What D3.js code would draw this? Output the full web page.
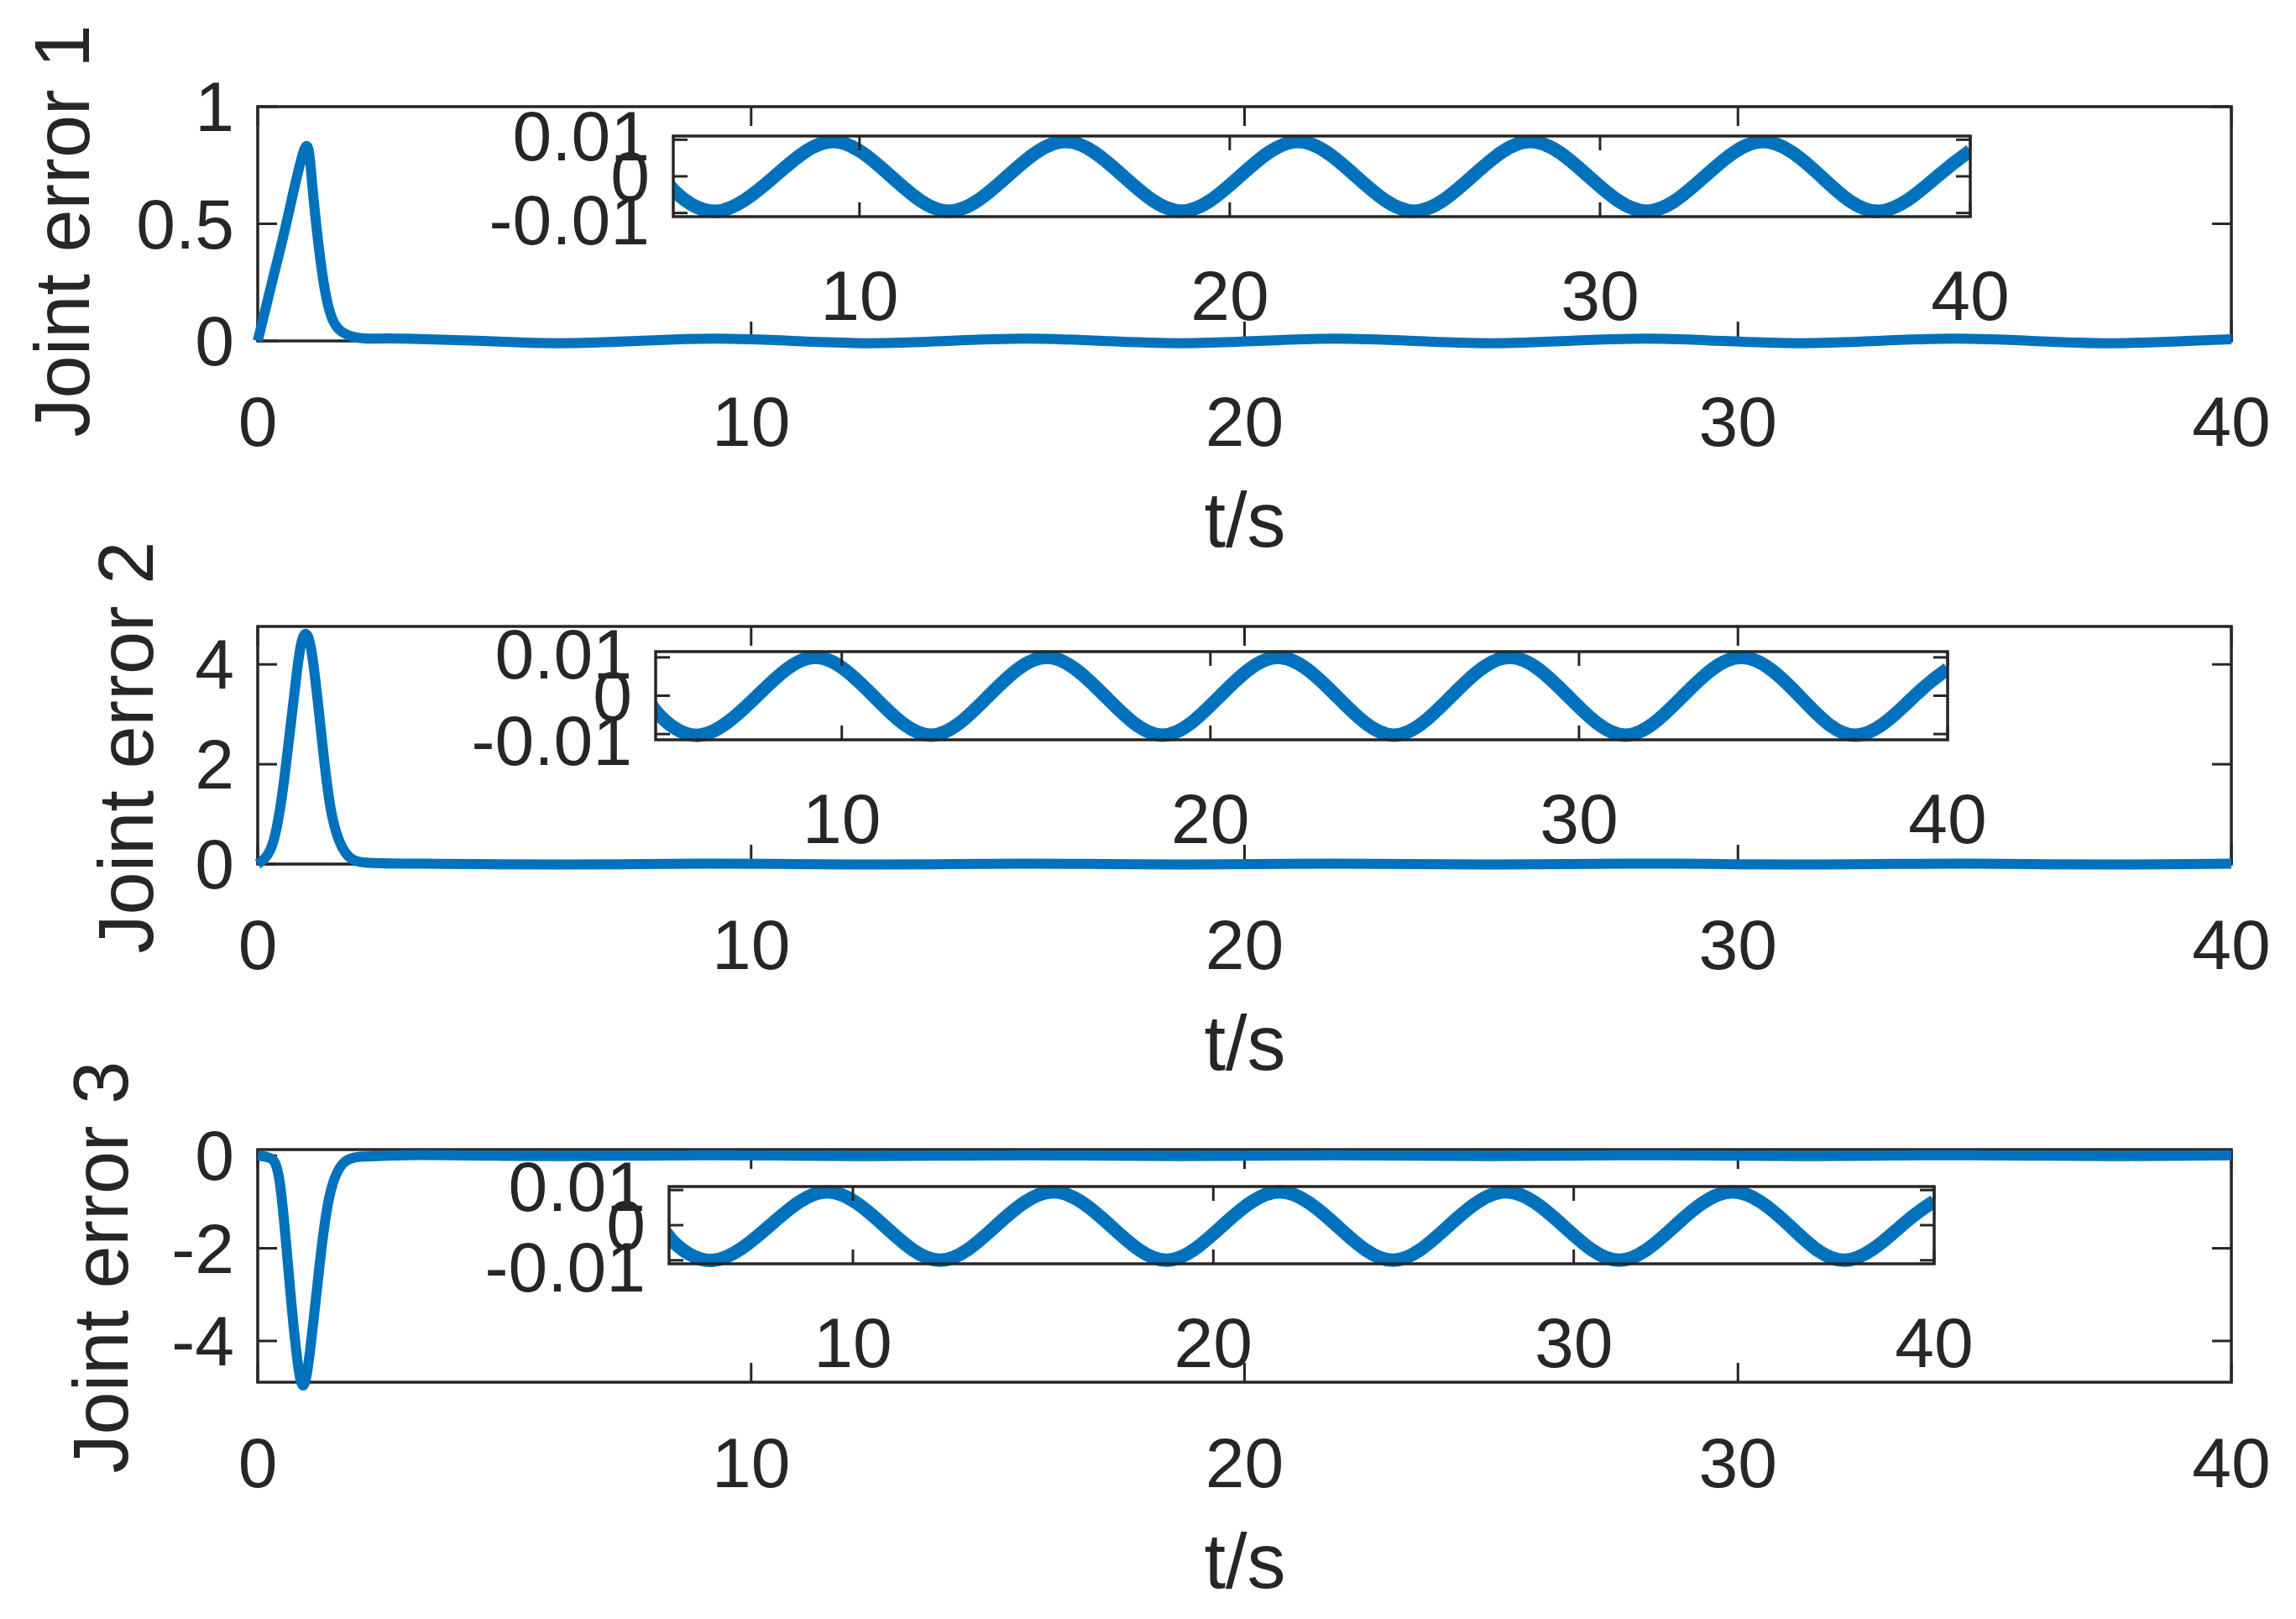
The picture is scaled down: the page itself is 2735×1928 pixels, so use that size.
<!DOCTYPE html>
<html><head><meta charset="utf-8">
<script src="https://cdn.jsdelivr.net/npm/d3@7"></script>
<style>body{margin:0;background:#fff}</style></head>
<body><svg id="c" width="2735" height="1928"></svg>
<script>
// ---- data ----
const xTicks = [0, 10, 20, 30, 40];
const insetXTicks = [10, 20, 30, 40];
const insetYTicks = [-0.01, 0, 0.01];
const insetYLabels = ["-0.01", "0", "0.01"];

const transientT1 = [0, 0.3, 0.6, 0.95, 1.1, 1.3, 1.5, 1.7, 2.0, 2.4];
const transientV1 = [0, 0.26, 0.52, 0.82, 0.68, 0.3, 0.1, 0.04, 0.015, 0.01];
const transientT2 = [0, 0.3, 0.55, 0.8, 0.95, 1.1, 1.3, 1.5, 1.8, 2.2];
const transientV2 = [0, 0.4, 1.8, 3.9, 4.6, 4.2, 2.5, 1.0, 0.2, 0.03];
const transientT3 = [0, 0.25, 0.45, 0.65, 0.87, 1.05, 1.25, 1.45, 1.75, 2.2];
const transientV3 = [0, -0.05, -0.6, -2.8, -4.85, -4.3, -2.4, -0.9, -0.15, -0.02];

const steadyT = [3.0, 4.57, 5.0, 6.14, 7.71, 9.28, 10.85, 12.42, 13.99, 15.56, 17.13, 18.70, 20.27, 21.84, 23.41, 24.98, 26.55, 28.12, 29.69, 31.26, 32.83, 34.40, 35.97, 37.54, 39.11, 40.0];
const steadyV1 = [0.0095, 0, -0.004, -0.0095, 0, 0.0095, 0, -0.0095, 0, 0.0095, 0, -0.0095, 0, 0.0095, 0, -0.0095, 0, 0.0095, 0, -0.0095, 0, 0.0095, 0, -0.0095, 0, 0.0070];
const steadyV2 = [0.0100, 0, -0.0045, -0.0103, 0, 0.0100, 0, -0.0103, 0, 0.0100, 0, -0.0103, 0, 0.0100, 0, -0.0103, 0, 0.0100, 0, -0.0103, 0, 0.0100, 0, -0.0103, 0, 0.0070];
const steadyV3 = [0.0095, 0, -0.0045, -0.0100, 0, 0.0095, 0, -0.0100, 0, 0.0095, 0, -0.0100, 0, 0.0095, 0, -0.0100, 0, 0.0095, 0, -0.0100, 0, 0.0095, 0, -0.0100, 0, 0.0068];

const yTicks1 = [0, 0.5, 1], yLabels1 = ["0", "0.5", "1"];
const yTicks2 = [0, 2, 4], yLabels2 = ["0", "2", "4"];
const yTicks3 = [-4, -2, 0], yLabels3 = ["-4", "-2", "0"];
const yLabelNames = ["Joint error 1", "Joint error 2", "Joint error 3"];

// ---- layout ----
const panels = [
  {top:127, bot:406, yd:[0,1], yt:yTicks1, yl:yLabels1, tt:transientT1, tv:transientV1, sv:steadyV1, lab:{x:74,y:275},
   inset:{l:802,r:2347,t:162,b:258,yd:[-0.011,0.011],xd:[4.97,40]}},
  {top:746, bot:1029, yd:[0,4.76], yt:yTicks2, yl:yLabels2, tt:transientT2, tv:transientV2, sv:steadyV2, lab:{x:150,y:890},
   inset:{l:781,r:2320,t:776,b:881,yd:[-0.0115,0.0115],xd:[4.95,40]}},
  {top:1369, bot:1646, yd:[-4.89,0.13], yt:yTicks3, yl:yLabels3, tt:transientT3, tv:transientV3, sv:steadyV3, lab:{x:120,y:1509},
   inset:{l:797,r:2304,t:1413,b:1505,yd:[-0.011,0.011],xd:[4.9,40]}}
];
const L = 307, R = 2658, blue = "#0072BD", font = "Liberation Sans, Arial, sans-serif";
const TF = 84, LF = 92;
const svg = d3.select("#c");

function box(g, x, y, tl, xt, ytk) {
  const [x0,x1] = x.range(), [y0,y1] = y.range();
  g.append("rect").attr("x",x0).attr("y",y1).attr("width",x1-x0).attr("height",y0-y1)
    .attr("fill","none").attr("stroke","#262626").attr("stroke-width",3.5);
  xt.forEach(t=>{const px=x(t);
    g.append("line").attr("x1",px).attr("x2",px).attr("y1",y0).attr("y2",y0-tl).attr("stroke","#262626").attr("stroke-width",3);
    g.append("line").attr("x1",px).attr("x2",px).attr("y1",y1).attr("y2",y1+tl).attr("stroke","#262626").attr("stroke-width",3);});
  ytk.forEach(t=>{const py=y(t);
    g.append("line").attr("x1",x0).attr("x2",x0+tl).attr("y1",py).attr("y2",py).attr("stroke","#262626").attr("stroke-width",3);
    g.append("line").attr("x1",x1).attr("x2",x1-tl).attr("y1",py).attr("y2",py).attr("stroke","#262626").attr("stroke-width",3);});
}
const line = (x,y)=>d3.line().x(d=>x(d[0])).y(d=>y(d[1])).curve(d3.curveNatural);

panels.forEach((p,i)=>{
  const g = svg.append("g");
  const x = d3.scaleLinear().domain([0,40]).range([L,R]);
  const y = d3.scaleLinear().domain(p.yd).range([p.bot,p.top]);
  const main = p.tt.map((t,k)=>[t,p.tv[k]]).concat(steadyT.map((t,k)=>[t,p.sv[k]]));
  box(g,x,y,23,xTicks,p.yt);
  g.append("path").datum(main).attr("d",line(x,y)).attr("fill","none").attr("stroke",blue).attr("stroke-width",12).attr("stroke-linejoin","round");
  xTicks.forEach(t=>g.append("text").attr("x",x(t)).attr("y",p.bot+96).attr("text-anchor","middle").attr("dominant-baseline","central")
    .attr("font-family",font).attr("font-size",TF).attr("fill","#262626").text(t));
  p.yt.forEach((t,k)=>g.append("text").attr("x",L-28).attr("y",y(t)).attr("text-anchor","end").attr("dominant-baseline","central")
    .attr("font-family",font).attr("font-size",TF).attr("fill","#262626").text(p.yl[k]));
  g.append("text").attr("x",1483).attr("y",p.bot+213).attr("text-anchor","middle").attr("dominant-baseline","central")
    .attr("font-family",font).attr("font-size",LF).attr("fill","#262626").text("t/s");
  g.append("text").attr("transform",`translate(${p.lab.x},${p.lab.y}) rotate(-90)`).attr("text-anchor","middle").attr("dominant-baseline","central")
    .attr("font-family",font).attr("font-size",LF).attr("fill","#262626").text(yLabelNames[i]);

  // inset
  const q = p.inset;
  const xi = d3.scaleLinear().domain(q.xd).range([q.l,q.r]);
  const yi = d3.scaleLinear().domain(q.yd).range([q.b,q.t]);
  g.append("rect").attr("x",q.l).attr("y",q.t).attr("width",q.r-q.l).attr("height",q.b-q.t).attr("fill","#fff");
  const ins = steadyT.map((t,k)=>[t,p.sv[k]]);
  const clipId = "clip"+i;
  g.append("clipPath").attr("id",clipId).append("rect").attr("x",q.l).attr("y",q.t-8).attr("width",q.r-q.l).attr("height",q.b-q.t+16);
  g.append("path").datum(ins).attr("clip-path",`url(#${clipId})`).attr("d",line(xi,yi)).attr("fill","none").attr("stroke",blue).attr("stroke-width",16).attr("stroke-linejoin","round");
  box(g,xi,yi,17,insetXTicks,insetYTicks);
  insetXTicks.forEach(t=>g.append("text").attr("x",xi(t)).attr("y",q.b+94).attr("text-anchor","middle").attr("dominant-baseline","central")
    .attr("font-family",font).attr("font-size",TF).attr("fill","#262626").text(t));
  insetYTicks.forEach((t,k)=>g.append("text").attr("x",q.l-28).attr("y",yi(t)+(t>0?-4:t<0?8:0)).attr("text-anchor","end").attr("dominant-baseline","central")
    .attr("font-family",font).attr("font-size",TF).attr("fill","#262626").text(insetYLabels[k]));
});
</script></body></html>
